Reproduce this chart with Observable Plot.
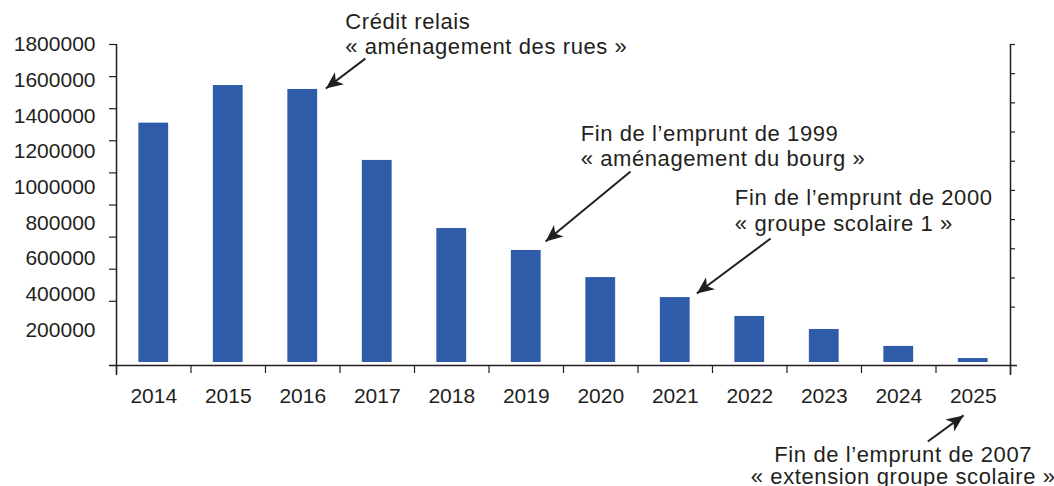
<!DOCTYPE html>
<html>
<head>
<meta charset="utf-8">
<script src="https://cdn.jsdelivr.net/npm/d3@7"></script>
<script src="https://cdn.jsdelivr.net/npm/@observablehq/plot@0.6"></script>
<style>
  html, body { margin: 0; padding: 0; background: #fff; }
  #chart svg { display: block; }
</style>
</head>
<body>
<div id="chart"></div>
<script>
// ---- Data ----
const years = [2014, 2015, 2016, 2017, 2018, 2019, 2020, 2021, 2022, 2023, 2024, 2025];
const values = [1359000, 1570000, 1548000, 1150000, 768000, 645000, 493000, 381000, 275000, 202000, 107000, 39000];
const yTickLabels = [200000, 400000, 600000, 800000, 1000000, 1200000, 1400000, 1600000, 1800000];

// Annotations (text + arrow), in chart data units
const annotTexts = [
  "Crédit relais\n« aménagement des rues »",
  "Fin de l’emprunt de 1999\n« aménagement du bourg »",
  "Fin de l’emprunt de 2000\n« groupe scolaire 1 »",
  "Fin de l’emprunt de 2007\n« extension groupe scolaire »"
];
const annotTextX = [2016.57, 2019.73, 2021.8, 2024.06];
const annotTextY = [1864000, 1233000, 872000, -566000];
const annotAnchor = ["start", "start", "start", "middle"];
const arrowFromX = [2016.84, 2020.40, 2022.28, 2024.39];
const arrowFromY = [1721000, 1088000, 712000, -426000];
const arrowToX = [2016.31, 2019.26, 2021.29, 2024.87];
const arrowToY = [1553000, 695000, 404000, -280000];

// ---- Layout ----
const W = 1054, H = 486;
const mL = 116, mR = 44, mT = 44, mB = 121;
const xDomain = [2013.5, 2025.5];
const yDomain = [0, 1800000];
const pxPerX = (W - mL - mR) / (xDomain[1] - xDomain[0]);
const pxPerY = (H - mT - mB) / (yDomain[1] - yDomain[0]);

const ink = "#231f20";
const barColor = "#2f5ca8";
const font = "'Liberation Sans', Arial, sans-serif";

const data = years.map((year, i) => ({year, value: values[i]}));
const boundaries = d3.range(years.length + 1).map(i => xDomain[0] + i);
const leftTicks = d3.range(2, 11).map(k => k * 180000);
const rightTicks = d3.range(2, 12).map(k => k * 1800000 / 11);

const annots = annotTexts.map((text, i) => {
  const sx = (arrowToX[i] - arrowFromX[i]) * pxPerX;
  const sy = (arrowToY[i] - arrowFromY[i]) * pxPerY; // up positive
  return {
    text, tx: annotTextX[i], ty: annotTextY[i], anchor: annotAnchor[i],
    x1: arrowFromX[i], y1: arrowFromY[i], x2: arrowToX[i], y2: arrowToY[i],
    angle: Math.atan2(sx, sy) * 180 / Math.PI
  };
});

// Filled arrow head symbol, tip at origin pointing up
const headSymbol = {
  draw(ctx) {
    ctx.moveTo(0, 0);
    ctx.lineTo(7.5, 17);
    ctx.lineTo(0, 12.5);
    ctx.lineTo(-7.5, 17);
    ctx.closePath();
  }
};

const plot = Plot.plot({
  width: W,
  height: H,
  marginLeft: mL,
  marginRight: mR,
  marginTop: mT,
  marginBottom: mB,
  x: {type: "linear", domain: xDomain, axis: null},
  y: {type: "linear", domain: yDomain, axis: null},
  style: {fontFamily: font, color: ink, background: "#fff", overflow: "visible"},
  marks: [
    Plot.rectY(data, {
      x1: d => d.year - 0.2, x2: d => d.year + 0.2, y: "value",
      fill: barColor, insetBottom: 3
    }),
    // baseline
    Plot.ruleY([0], {x1: xDomain[0] - 7 / pxPerX, x2: xDomain[1] + 7 / pxPerX, stroke: ink, strokeWidth: 1.5}),
    // left and right axis lines
    Plot.ruleX([xDomain[0], xDomain[1]], {y1: -10 / pxPerY, y2: yDomain[1], stroke: ink, strokeWidth: 1.5}),
    // left axis ticks
    Plot.ruleY(leftTicks, {x1: xDomain[0] - 7 / pxPerX, x2: xDomain[0], stroke: ink, strokeWidth: 1.2}),
    // right axis ticks
    Plot.ruleY(rightTicks, {x1: xDomain[1], x2: xDomain[1] + 5 / pxPerX, stroke: ink, strokeWidth: 1.2}),
    // x ticks at category boundaries
    Plot.ruleX(boundaries, {y1: -8 / pxPerY, y2: 0, stroke: ink, strokeWidth: 1.2}),
    // y labels
    Plot.text(yTickLabels, {
      x: xDomain[0], y: d => d, dx: -21, textAnchor: "end",
      text: d => String(d), fontSize: 21, fill: ink
    }),
    // x labels
    Plot.text(years, {
      x: d => d, y: 0, dy: 31, text: d => String(d), fontSize: 21, fill: ink
    }),
    // annotations
    Plot.link(annots, {x1: "x1", y1: "y1", x2: "x2", y2: "y2", stroke: ink, strokeWidth: 2}),
    Plot.dot(annots, {x: "x2", y: "y2", symbol: headSymbol, r: 5, rotate: "angle", fill: ink, stroke: "none"}),
    Plot.text(annots.filter(d => d.anchor === "start"), {
      x: "tx", y: "ty", text: "text", textAnchor: "start", lineAnchor: "middle",
      lineHeight: 1.14, fontSize: 22, fill: ink
    }),
    Plot.text(annots.filter(d => d.anchor === "middle"), {
      x: "tx", y: "ty", text: "text", textAnchor: "middle", lineAnchor: "middle",
      lineHeight: 1.0, fontSize: 22, fill: ink
    })
  ]
});
// slightly wider tracking for the annotation texts
d3.select(plot).selectAll('g[aria-label="text"]').filter((d, i) => i >= 2)
  .style("letter-spacing", "0.6px");
document.getElementById("chart").appendChild(plot);
</script>
</body>
</html>
